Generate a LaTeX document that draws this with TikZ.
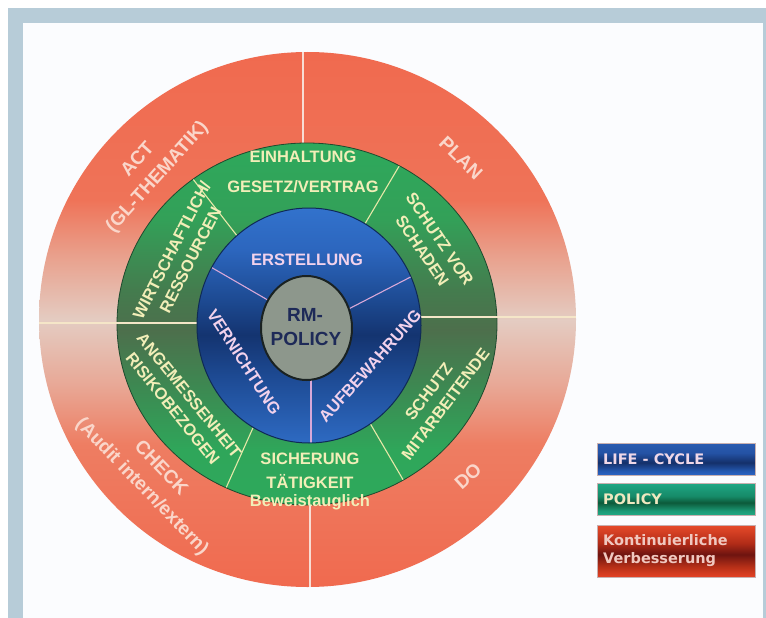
\documentclass[tikz,border=0pt]{standalone}
\usepackage{fontspec}
\setmainfont{Liberation Sans}
\newfontfamily\legendfont{DejaVu Sans}

% colours
\definecolor{framecol}{HTML}{B7CCD8}
\definecolor{paper}{HTML}{FBFCFE}
\definecolor{rA}{HTML}{F06A4F}
\definecolor{rB}{HTML}{EF7358}
\definecolor{rC}{HTML}{E9A08C}
\definecolor{rD}{HTML}{E4CCC2}
\definecolor{rE}{HTML}{E8A896}
\definecolor{rF}{HTML}{EE7D62}
\definecolor{gA}{HTML}{2EA95C}
\definecolor{gB}{HTML}{33A058}
\definecolor{gC}{HTML}{447C4E}
\definecolor{gD}{HTML}{4D6F4C}
\definecolor{gE}{HTML}{3C8A52}
\definecolor{gF}{HTML}{2FA65A}
\definecolor{bA}{HTML}{3272CC}
\definecolor{bB}{HTML}{2C66BE}
\definecolor{bC}{HTML}{1D4A92}
\definecolor{bD}{HTML}{143470}
\definecolor{bE}{HTML}{1E4C96}
\definecolor{bF}{HTML}{2E6AC2}
\definecolor{lbA}{HTML}{2A5CB0}
\definecolor{lbB}{HTML}{2452A4}
\definecolor{lbC}{HTML}{14306A}
\definecolor{lbD}{HTML}{2458B0}
\definecolor{lbE}{HTML}{2C66C6}
\definecolor{ltA}{HTML}{1FA684}
\definecolor{ltB}{HTML}{168A68}
\definecolor{ltC}{HTML}{0C5A3A}
\definecolor{ltD}{HTML}{1C9A76}
\definecolor{ltE}{HTML}{22AA86}
\definecolor{lrA}{HTML}{E64A2A}
\definecolor{lrB}{HTML}{B22C18}
\definecolor{lrC}{HTML}{6E1410}
\definecolor{lrD}{HTML}{B83018}
\definecolor{lrE}{HTML}{E64426}
\definecolor{greenedge}{HTML}{1E4A2E}
\definecolor{blueedge}{HTML}{0F2A55}
\definecolor{grayfill}{HTML}{8D978C}
\definecolor{grayedge}{HTML}{1A2222}
\definecolor{redtext}{HTML}{FAD6CA}
\definecolor{greentext}{HTML}{F2EEB8}
\definecolor{bluetext}{HTML}{F2D2EC}
\definecolor{coretext}{HTML}{1E2A58}
\definecolor{redline}{HTML}{F8DDD4}
\definecolor{hlinecol}{HTML}{F5E6C8}
\definecolor{greenline}{HTML}{E6E8A8}
\definecolor{blueline}{HTML}{D8A8D8}
\definecolor{boxedge}{HTML}{C8B0B0}
\definecolor{legblue}{HTML}{F0D8E8}
\definecolor{legteal}{HTML}{F0E8C0}
\definecolor{legred}{HTML}{F0C8C0}

% ring shadings (path box spans 25bp..75bp)
\pgfdeclareverticalshading{ringred}{100bp}{color(0bp)=(rA); color(25bp)=(rA);
  color(38.3bp)=(rF); color(43.9bp)=(rE); color(49.95bp)=(rD);
  color(56bp)=(rC); color(61.2bp)=(rB); color(75bp)=(rA); color(100bp)=(rA)}
\pgfdeclareverticalshading{ringgreen}{100bp}{color(0bp)=(gA); color(25bp)=(gA);
  color(32.6bp)=(gF); color(40.9bp)=(gE); color(49.2bp)=(gD);
  color(54.7bp)=(gC); color(64.4bp)=(gB); color(75bp)=(gA); color(100bp)=(gA)}
\pgfdeclareverticalshading{ringblue}{100bp}{color(0bp)=(bF); color(25bp)=(bF);
  color(38.4bp)=(bE); color(48bp)=(bD); color(55.4bp)=(bC);
  color(66.1bp)=(bB); color(75bp)=(bA); color(100bp)=(bA)}
\pgfdeclareverticalshading{boxblue}{100bp}{color(0bp)=(lbE); color(25bp)=(lbE);
  color(32bp)=(lbD); color(45bp)=(lbC); color(60bp)=(lbB); color(75bp)=(lbA); color(100bp)=(lbA)}
\pgfdeclareverticalshading{boxteal}{100bp}{color(0bp)=(ltE); color(25bp)=(ltE);
  color(32bp)=(ltD); color(45bp)=(ltC); color(55bp)=(ltB); color(75bp)=(ltA); color(100bp)=(ltA)}
\pgfdeclareverticalshading{boxred}{100bp}{color(0bp)=(lrE); color(25bp)=(lrE);
  color(35bp)=(lrD); color(47bp)=(lrC); color(58bp)=(lrB); color(75bp)=(lrA); color(100bp)=(lrA)}

\begin{document}
\begin{tikzpicture}[x=1pt,y=-1pt,
  redtxt/.style={inner sep=0pt, text=redtext, align=center,
    font=\fontsize{19}{26}\selectfont\bfseries},
  greentxt/.style={inner sep=0pt, text=greentext, align=center,
    font=\fontsize{16.5}{21}\selectfont\bfseries},
  bluetxt/.style={inner sep=0pt, text=bluetext,
    font=\fontsize{16.5}{20}\selectfont\bfseries},
  coretxt/.style={inner sep=0pt, text=coretext,
    font=\fontsize{19}{24}\selectfont\bfseries},
  redsep/.style={draw=redline, line width=1.6pt},
  hsep/.style={draw=hlinecol, line width=1.4pt},
  greensep/.style={draw=greenline, line width=1.1pt},
  bluesep/.style={draw=blueline, line width=1.1pt},
  legbox/.style={draw=boxedge, line width=0.8pt, minimum width=158pt,
    anchor=north west, inner sep=0pt},
  legtxt/.style={inner sep=0pt, anchor=west, align=left,
    font=\legendfont\fontsize{14.5}{18}\selectfont\bfseries}]

\useasboundingbox (0,0) rectangle (766,618);

% page frame
\fill[white] (0,0) rectangle (766,618);
\fill[framecol] (8,8) rectangle (766,618);
\fill[paper] (23,23) rectangle (763,618);

% outer ring: continuous improvement
\shade[shading=ringred] (307.5,319.5) ellipse [x radius=268.5pt, y radius=267.5pt];
\begin{scope}
  \clip (307.5,319.5) ellipse [x radius=268.5pt, y radius=267.5pt];
  \draw[redsep] (303,40) -- (303,300);
  \draw[redsep] (310,340) -- (310,600);
\end{scope}

% middle ring: policy
\shadedraw[shading=ringgreen, draw=greenedge, line width=0.8pt]
  (307,324) ellipse [x radius=190pt, y radius=181pt];
\begin{scope}
  \clip (307,324) ellipse [x radius=189.5pt, y radius=180.5pt];
  \draw[greensep] (175,156) -- (245,246);
  \draw[greensep] (414,141) -- (356,239);
  \draw[greensep] (261,410) -- (213,517);
  \draw[greensep] (357,401) -- (422,512);
\end{scope}
\begin{scope}
  \clip (307.5,319.5) ellipse [x radius=268.5pt, y radius=267.5pt];
  \draw[hsep] (30,323) -- (250,323);
  \draw[hsep] (360,317) -- (590,317);
\end{scope}

% inner ring: life cycle
\shadedraw[shading=ringblue, draw=blueedge, line width=1pt]
  (309,325.5) ellipse [x radius=112pt, y radius=117.5pt];
\begin{scope}
  \clip (309,325.5) ellipse [x radius=111.5pt, y radius=117pt];
  \draw[bluesep] (190,255) -- (285,310);
  \draw[bluesep] (430,267) -- (335,316);
  \draw[bluesep] (311,360) -- (311,460);
\end{scope}

% core
\draw[fill=grayfill, draw=grayedge, line width=2pt]
  (306.5,328) ellipse [x radius=45.5pt, y radius=52pt];
\node[coretxt] (rm) at (305,315) {RM-};
\node[coretxt] (policy) at (306,339) {POLICY};

% PDCA labels
\node[redtxt, rotate=48] (act) at (148,169) {ACT\\(GL-THEMATIK)};
\node[redtxt, rotate=-44] (plan) at (461,158) {PLAN};
\node[redtxt, rotate=42] (do) at (468,476) {DO};
\node[redtxt, rotate=-46] (check) at (151,478) {CHECK\\(Audit intern/extern)};

% policy labels
\node[greentxt] (einh) at (303,157) {EINHALTUNG};
\node[greentxt] (gesetz) at (303,187) {GESETZ/VERTRAG};
\node[greentxt, rotate=-56] (schaden) at (431,245) {SCHUTZ VOR\\SCHADEN};
\node[greentxt, rotate=63] (wirt) at (181,255) {WIRTSCHAFTLICH/\\RESSOURCEN};
\node[greentxt, rotate=-51] (angem) at (181,402) {ANGEMESSENHEIT\\RISIKOBEZOGEN};
\node[greentxt, rotate=53] (mitarb) at (437,398) {SCHUTZ\\MITARBEITENDE};
\node[greentxt] (sich) at (310,459) {SICHERUNG};
\node[greentxt] (taet) at (310,482) {TÄTIGKEIT};
\node[greentxt] (bew) at (310,502) {Beweistauglich};

% life cycle labels
\node[bluetxt] (erst) at (307,260) {ERSTELLUNG};
\node[bluetxt, rotate=-57] (vern) at (244,362) {VERNICHTUNG};
\node[bluetxt, rotate=48] (aufb) at (370,366) {AUFBEWAHRUNG};

% legend
\node[legbox, shading=boxblue, minimum height=32pt] (lifebox) at (597,443) {};
\node[legtxt, text=legblue] (lifetext) at (603,459) {LIFE - CYCLE};
\node[legbox, shading=boxteal, minimum height=32pt] (polbox) at (597,483) {};
\node[legtxt, text=legteal] (poltext) at (603,499) {POLICY};
\node[legbox, shading=boxred, minimum height=52pt] (kvbox) at (597,525) {};
\node[legtxt, text=legred] (kvtext) at (603,551) {Kontinuierliche\\Verbesserung};

\end{tikzpicture}
\end{document}
